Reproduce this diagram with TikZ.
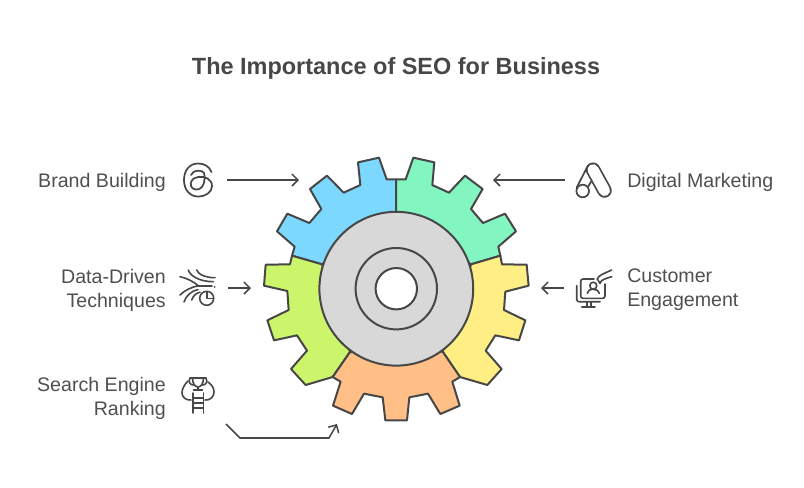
\documentclass[tikz,border=0pt]{standalone}
\usepackage{fontspec}
\setmainfont{Liberation Sans}
\usetikzlibrary{arrows.meta}
\definecolor{lineGray}{HTML}{474747}
\definecolor{textGray}{HTML}{4F4F4F}
\definecolor{gearBlue}{HTML}{7DD8FF}
\definecolor{gearGreen}{HTML}{83F5C0}
\definecolor{gearYellow}{HTML}{FFEE83}
\definecolor{gearLime}{HTML}{CDF56B}
\definecolor{gearOrange}{HTML}{FFBF87}
\definecolor{gearHub}{HTML}{D8D8D8}
\tikzset{%
  gearPart/.style={draw=lineGray, line width=1.5pt, line join=round},
  labelText/.style={text=textGray, font=\fontsize{14.7}{18}\selectfont, inner sep=0pt},
  labelLeft/.style={labelText, anchor=east, align=right},
  labelRight/.style={labelText, anchor=west, align=left},
  titleText/.style={text=lineGray, font=\fontsize{17.6}{20}\selectfont\bfseries, inner sep=0pt},
  pointer/.style={draw=lineGray, line width=1.15pt, -{Straight Barb[length=4.5pt,width=9pt,line width=1.15pt]}},
  iconLine/.style={draw=lineGray, line width=1.2pt, line cap=round, line join=round},
}
\begin{document}
\begin{tikzpicture}[x=0.75pt,y=-0.75pt]
    \useasboundingbox (0,0) rectangle (804,487);

    %Nodes
    \node[titleText] (title) at (396,68.5) {The Importance of SEO for Business};

    \node[labelLeft] (brand) at (166,182) {Brand Building};
    \node[labelLeft] (dataDriven) at (166,290) {Data-Driven\\Techniques};
    \node[labelLeft] (search) at (166,398) {Search Engine\\Ranking};
    \node[labelRight] (digital) at (627,182) {Digital Marketing};
    \node[labelRight] (customer) at (627,290) {Customer\\Engagement};

    %Gear
    \begin{scope}[shift={(250,140)},scale=1/3]
        \draw[gearPart,fill=gearBlue] (438,118) -- (410,118) -- (387,53) -- (324,67) -- (331,135) -- (281,158) -- (231,107) -- (180,147) -- (214,207) -- (178,249) -- (112,221) -- (81,274) -- (134,320) -- (126,347) -- (216,373) -- (438,214) -- cycle;
        \draw[gearPart,fill=gearGreen] (438,118) -- (467,118) -- (490,53) -- (553,67) -- (547,135) -- (597,158) -- (645,107) -- (698,147) -- (663,207) -- (699,249) -- (765,221) -- (798,274) -- (745,320) -- (751,347) -- (663,373) -- (438,214) -- cycle;
        \draw[gearPart,fill=gearYellow] (751,347) -- (756,373) -- (830,374) -- (836,437) -- (766,455) -- (762,510) -- (826,541) -- (807,601) -- (736,586) -- (707,632) -- (755,687) -- (712,735) -- (630,711) -- (578,635) -- (663,373) -- cycle;
        \draw[gearPart,fill=gearLime] (126,347) -- (120,373) -- (47,374) -- (42,437) -- (112,453) -- (116,510) -- (52,541) -- (72,601) -- (141,586) -- (171,632) -- (123,687) -- (167,735) -- (248,711) -- (300,636) -- (216,373) -- cycle;
        \draw[gearPart,fill=gearOrange] (248,711) -- (272,725) -- (249,797) -- (306,822) -- (342,761) -- (398,772) -- (406,841) -- (471,841) -- (478,772) -- (534,761) -- (571,822) -- (629,797) -- (607,725) -- (630,711) -- (578,635) -- (300,636) -- cycle;
    \end{scope}
    \draw[gearPart,fill=gearHub] (396.3,288.7) circle (76.9);
    \draw[gearPart] (396.3,288.7) circle (40.7);
    \draw[gearPart,fill=white] (396.3,288.7) circle (20.7);

    %Lines
    \coordinate (brandStart) at (227,180);
    \coordinate (brandEnd) at (299,180);
    \coordinate (digitalStart) at (565,180);
    \coordinate (digitalEnd) at (493,180);
    \coordinate (dataStart) at (228,288);
    \coordinate (dataEnd) at (251,288);
    \coordinate (customerStart) at (564,288);
    \coordinate (customerEnd) at (541,288);
    \coordinate (searchStart) at (226,424);
    \coordinate (searchEnd) at (337,424);
    \draw[pointer] (brandStart) -- (brandEnd);
    \draw[pointer] (digitalStart) -- (digitalEnd);
    \draw[pointer] (dataStart) -- (dataEnd);
    \draw[pointer] (customerStart) -- (customerEnd);
    \draw[pointer] (searchStart) -- (240,438) -- (329,438) -- (searchEnd);

    %Icons
    % threads
    \draw[iconLine,line width=1.3pt] (211.5,172) .. controls (209,166) and (204,163.5) .. (198,163.5) .. controls (189,163.5) and (184,171) .. (184,180) .. controls (184,190) and (190,196.5) .. (198,196.5) .. controls (206,196.5) and (212,192) .. (212,186) .. controls (212,179) and (205,176) .. (198,177) .. controls (192,178) and (190,182) .. (191,186) .. controls (192,190) and (199,191) .. (202,187) .. controls (205,183) and (205,176) .. (204,173) .. controls (203,170) and (193,169) .. (191,175);
    % data
    \draw[iconLine] (180,276.7) .. controls (186,278) and (193,281) .. (198.3,285.7) .. controls (192,287) and (185,290) .. (180,295);
    \draw[iconLine] (188.3,270) .. controls (190,276) and (200,281.7) .. (213.3,281.7);
    \draw[iconLine] (196.7,270) .. controls (198,274) and (205,277.7) .. (215,277.7);
    \draw[iconLine] (198.3,285.7) -- (212,285.7);
    \draw[iconLine] (214.5,287) -- (214.7,287);
    \draw[iconLine] (184,302) .. controls (186,296) and (191,291) .. (198,289.5);
    \draw[iconLine] (191.7,300) .. controls (193,296) and (196,293) .. (200,292.3);
    \draw[iconLine] (206.7,298.3) circle (7);
    \draw[iconLine] (206.7,291.5) -- (206.7,298.3) -- (213.5,298.3);
    % trophy and ladder
    \draw[iconLine] (190,378) -- (206,378);
    \draw[iconLine] (192.5,378) .. controls (192.5,384) and (195.5,387) .. (198,387) .. controls (200.5,387) and (203.5,384) .. (203.5,378);
    \draw[iconLine] (190,378) .. controls (188,382) and (190,385) .. (193.5,385);
    \draw[iconLine] (206,378) .. controls (208,382) and (206,385) .. (202.5,385);
    \draw[iconLine] (198,387) -- (198,390);
    \draw[iconLine] (193.5,390) -- (202.5,390);
    \draw[iconLine] (192.7,393) -- (192.7,413);
    \draw[iconLine] (203.3,393) -- (203.3,413);
    \draw[iconLine] (192.7,398) -- (203.3,398);
    \draw[iconLine] (192.7,403) -- (203.3,403);
    \draw[iconLine] (192.7,408) -- (203.3,408);
    \draw[iconLine] (188,381) .. controls (184,385) and (182,389) .. (182,393) .. controls (182,397) and (186,400.5) .. (191,400);
    \draw[iconLine] (208,382) .. controls (212,385) and (214,388) .. (214,392) .. controls (214,397) and (210,400.5) .. (205,400);
    % digital marketing
    \draw[lineGray,line width=1.3pt,double=white,double distance=8.3pt,line cap=round] (593,169.7) -- (604.5,190.5);
    \draw[iconLine,line width=1.3pt] (582.7,191) circle (6.3);
    \draw[iconLine,line width=1.3pt] (588,165.5) -- (576.7,187.5);
    \draw[iconLine,line width=1.3pt] (591.7,180.7) -- (587.7,187.3);
    % customer engagement
    \draw[iconLine] (594,279) -- (583,279) .. controls (581.5,279) and (580.7,280) .. (580.7,281.5) -- (580.7,296) .. controls (580.7,297.5) and (581.5,298.3) .. (583,298.3) -- (602.5,298.3) .. controls (604,298.3) and (605,297.5) .. (605,296) -- (605,284);
    \draw[iconLine] (576.7,285.7) -- (576.7,299) .. controls (576.7,300.7) and (577.5,301.7) .. (579,301.7) -- (600,301.7);
    \draw[iconLine] (586.7,301.7) -- (586.7,306.7);
    \draw[iconLine] (590.7,301.7) -- (590.7,306.7);
    \draw[iconLine] (581.7,306.7) -- (595,306.7);
    \draw[iconLine] (593.3,285.7) circle (3.5);
    \draw[iconLine] (587.3,293.3) .. controls (587.3,290.5) and (590,289.3) .. (593.3,289.3) .. controls (596.5,289.3) and (599,290.5) .. (599.3,293.3);
    \draw[iconLine] (597.3,279) .. controls (599,275) and (603,274) .. (611.7,270);
    \draw[iconLine] (600,283.3) .. controls (601,280) and (604,279) .. (611.7,276.7);
    \draw[iconLine] (597.3,279) -- (600,283.3);
\end{tikzpicture}
\end{document}
